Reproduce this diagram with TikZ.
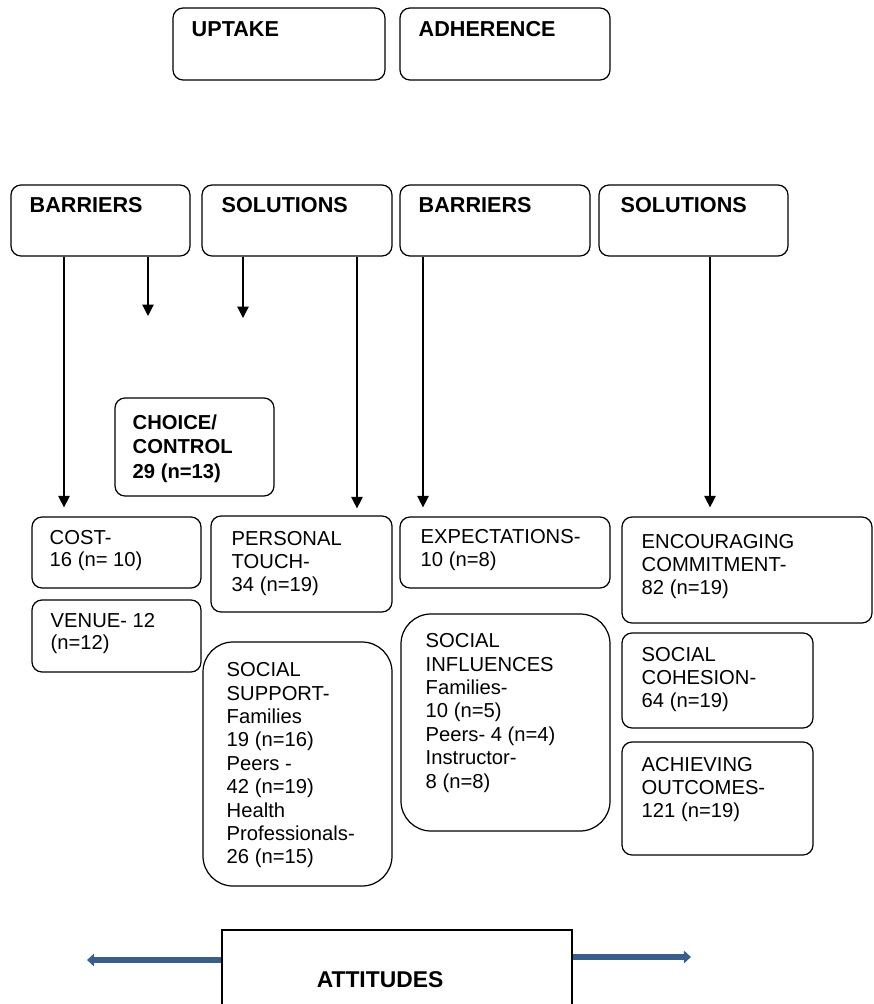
\documentclass[tikz,border=0pt]{standalone}
\usepackage{fontspec}
\setmainfont{Liberation Sans}
\usetikzlibrary{arrows.meta,fit,calc}
\definecolor{att}{RGB}{58,94,140}

\begin{document}
\begin{tikzpicture}[x=0.02cm,y=-0.02cm,
  box/.style={draw,line width=0.7pt,rounded corners=0.2cm,inner sep=0pt},
  bigbox/.style={box,rounded corners=0.6cm},
  txt/.style={anchor=north west,align=left,inner sep=0pt,font=\fontsize{11.5}{13.1}\selectfont},
  hd/.style={anchor=north west,align=left,inner sep=0pt,font=\bfseries\fontsize{12.3}{13.5}\selectfont},
  arr/.style={line width=0.7pt,-{Triangle[length=6.5pt,width=6.5pt]}},
  blu/.style={att,line width=3.4pt,-{Triangle[length=4pt,width=7pt]}}]
  \useasboundingbox (0,0) rectangle (873,1004);
  \clip (0,0) rectangle (873,1004);
  % top row
  \node[box,fit={(173,8) (385,80)}] (upt) {}; \node[hd] (upt-t) at ($(upt.north west)+(19,14)$) {UPTAKE};
  \node[box,fit={(400,8) (610,80)}] (adh) {}; \node[hd] (adh-t) at ($(adh.north west)+(19,14)$) {ADHERENCE};
  % barriers / solutions
  \node[box,fit={(11,185) (190,256)}] (bar1) {}; \node[hd] (bar1-t) at ($(bar1.north west)+(19,13)$) {BARRIERS};
  \node[box,fit={(202,185) (392,256)}] (sol1) {}; \node[hd] (sol1-t) at ($(sol1.north west)+(20,13)$) {SOLUTIONS};
  \node[box,fit={(400,185) (590,256)}] (bar2) {}; \node[hd] (bar2-t) at ($(bar2.north west)+(19,13)$) {BARRIERS};
  \node[box,fit={(599,185) (788,256)}] (sol2) {}; \node[hd] (sol2-t) at ($(sol2.north west)+(22,13)$) {SOLUTIONS};
  % themes
  \node[box,fit={(115,398) (274,496)}] (cho) {};
  \node[hd,font=\bfseries\fontsize{11.5}{13.9}\selectfont] (cho-t) at ($(cho.north west)+(18,17)$) {CHOICE/\\CONTROL\\29 (n=13)};
  \node[box,fit={(32,517) (201,588)}] (cost) {}; \node[txt,font=\fontsize{11.5}{12.6}\selectfont] (cost-t) at ($(cost.north west)+(18,14)$) {COST-\\16 (n= 10)};
  \node[box,fit={(32,600) (201,672)}] (ven) {}; \node[txt,font=\fontsize{11.5}{12.6}\selectfont] (ven-t) at ($(ven.north west)+(19,14)$) {VENUE- 12\\(n=12)};
  \node[box,fit={(211,516) (392,612)}] (per) {}; \node[txt] (per-t) at ($(per.north west)+(21,16)$) {PERSONAL\\TOUCH-\\34 (n=19)};
  \node[bigbox,fit={(203,642) (392,886)}] (sup) {};
  \node[txt,font=\fontsize{11.5}{13.3}\selectfont] (sup-t) at ($(sup.north west)+(24,21)$) {SOCIAL\\SUPPORT-\\Families\\19 (n=16)\\Peers -\\42 (n=19)\\Health\\Professionals-\\26 (n=15)};
  \node[box,fit={(400,517) (610,588)}] (exp) {}; \node[txt] (exp-t) at ($(exp.north west)+(21,13)$) {EXPECTATIONS-\\10 (n=8)};
  \node[bigbox,fit={(401,614) (610,831)}] (inf) {};
  \node[txt,font=\fontsize{11.5}{13.3}\selectfont] (inf-t) at ($(inf.north west)+(25,20)$) {SOCIAL\\INFLUENCES\\Families-\\10 (n=5)\\Peers- 4 (n=4)\\Instructor-\\8 (n=8)};
  \node[box,fit={(622,517) (872,623)}] (enc) {}; \node[txt] (enc-t) at ($(enc.north west)+(20,18)$) {ENCOURAGING\\COMMITMENT-\\82 (n=19)};
  \node[box,fit={(622,633) (813,728)}] (coh) {}; \node[txt] (coh-t) at ($(coh.north west)+(20,15)$) {SOCIAL\\COHESION-\\64 (n=19)};
  \node[box,fit={(622,742) (813,855)}] (ach) {}; \node[txt] (ach-t) at ($(ach.north west)+(20,16)$) {ACHIEVING\\OUTCOMES-\\121 (n=19)};
  % attitudes
  \node[draw,line width=0.8pt,inner sep=0pt,fit={(222,930) (572,1012)}] (att) {};
  \node[font=\bfseries\fontsize{13}{14}\selectfont,inner sep=0pt] (att-t) at (380,980) {ATTITUDES};
  % connectors
  \coordinate (c1) at (148,316); \coordinate (c2) at (243,318);
  \coordinate (x1) at (64,0); \coordinate (x2) at (357,0); \coordinate (x3) at (423,0); \coordinate (x4) at (710,0);
  \draw[arr] (bar1.south -| c1) -- (c1); \draw[arr] (sol1.south -| c2) -- (c2);
  \draw[arr,shorten >=0.18cm] (bar1.south -| x1) -- (cost.north -| x1);
  \draw[arr,shorten >=0.14cm] (sol1.south -| x2) -- (per.north -| x2);
  \draw[arr,shorten >=0.18cm] (bar2.south -| x3) -- (exp.north -| x3);
  \draw[arr,shorten >=0.18cm] (sol2.south -| x4) -- (enc.north -| x4);
  \coordinate (lend) at (87,960); \coordinate (rend) at (691,957);
  \draw[blu] (att.west |- lend) -- (lend); \draw[blu] (att.east |- rend) -- (rend);
\end{tikzpicture}
\end{document}
